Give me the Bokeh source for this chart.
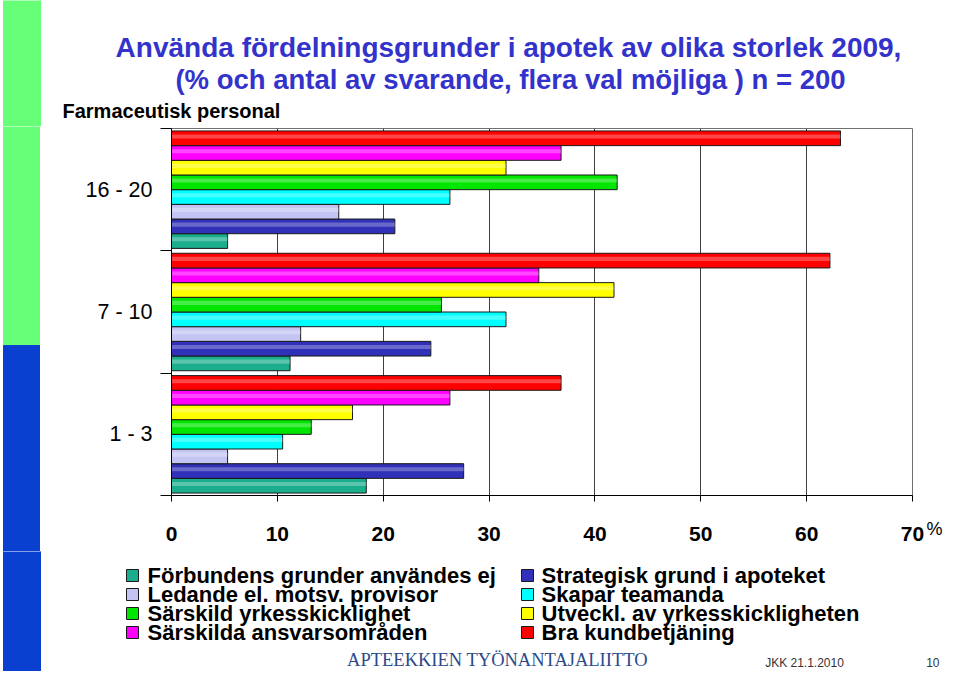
from bokeh.plotting import figure
from bokeh.layouts import column, row
from bokeh.models import Range1d, FixedTicker, Label
from bokeh.embed import file_html
from bokeh.resources import INLINE

# ---------------- data ----------------
categories = ["1 - 3", "7 - 10", "16 - 20"]          # bottom -> top
series_names = [
    "Förbundens grunder användes ej",
    "Strategisk grund i apoteket",
    "Ledande el. motsv. provisor",
    "Skapar teamanda",
    "Särskild yrkesskicklighet",
    "Utveckl. av yrkesskickligheten",
    "Särskilda ansvarsområden",
    "Bra kundbetjäning",
]
series_colors = ["#1BAE8C", "#3030B8", "#C4C4F2", "#00FFFF",
                 "#00E600", "#FFFF00", "#FF00FF", "#FF0000"]

forbundens = [18.4, 11.2, 5.3]
strategisk = [27.6, 24.5, 21.1]
ledande = [5.3, 12.2, 15.8]
skapar = [10.5, 31.6, 26.3]
sarskild_yrk = [13.2, 25.5, 42.1]
utveckl = [17.1, 41.8, 31.6]
sarskilda_ansv = [26.3, 34.7, 36.8]
bra_kund = [36.8, 62.2, 63.2]
series_values = [forbundens, strategisk, ledande, skapar,
                 sarskild_yrk, utveckl, sarskilda_ansv, bra_kund]

x_ticks = [0, 10, 20, 30, 40, 50, 60, 70]

title_line1 = "Använda fördelningsgrunder i apotek av olika storlek 2009,"
title_line2 = "(% och antal av svarande, flera val möjliga ) n = 200"
subtitle = "Farmaceutisk personal"
unit_label = "%"
footer_org = "APTEEKKIEN TYÖNANTAJALIITTO"
footer_date = "JKK 21.1.2010"
footer_page = "10"

# ---------------- page geometry (px) ----------------
FONT = "Liberation Sans"
W, H = 943, 671
HEAD_H = 126            # header band height
MID_H = 425             # chart band height
FOOT_H = H - HEAD_H - MID_H
STRIPE_W = 40           # left stripe figure width
RIGHT_W = 19            # right little figure ("%")
CHART_W = W - STRIPE_W - RIGHT_W
GREEN = "#66FF77"
BLUE = "#0A40D0"
STRIPE_SPLIT = 345      # y where green turns blue


def canvas(w, h):
    c = figure(width=w, height=h, output_backend="svg", toolbar_location=None,
               title=None, x_range=Range1d(0, w), y_range=Range1d(h, 0),
               x_axis_type=None, y_axis_type=None, min_border=0,
               frame_align=False)
    c.outline_line_color = None
    c.background_fill_color = "white"
    c.border_fill_color = "white"
    return c


def label(c, text, x, y, size, color="black", style="normal", align="left",
          font=FONT):
    c.add_layout(Label(x=x, y=y, text=text, text_font=font, text_font_size=size,
                       text_font_style=style, text_color=color,
                       text_align=align, text_baseline="middle"))


# ---------------- header ----------------
head = canvas(W, HEAD_H)
head.quad(left=[3], right=[STRIPE_W], top=[-2], bottom=[HEAD_H + 2],
          fill_color=GREEN, line_color=GREEN, line_width=1)
label(head, title_line1, 508, 47, "28px", color="#3333CC", style="bold", align="center")
label(head, title_line2, 510, 79, "27.5px", color="#3333CC", style="bold", align="center")
label(head, subtitle, 62, 110, "20px", style="bold")

# ---------------- left stripe beside chart ----------------
left = canvas(STRIPE_W, MID_H)
left.quad(left=[3, 3], right=[STRIPE_W + 1, STRIPE_W + 1],
          top=[-2, STRIPE_SPLIT - HEAD_H], bottom=[STRIPE_SPLIT - HEAD_H, MID_H + 2],
          fill_color=[GREEN, BLUE], line_color=[GREEN, BLUE], line_width=1)

# ---------------- chart ----------------
FL, FR, FT, FB = 171, 912, 128, 495     # frame edges in page px
p = figure(width=CHART_W, height=MID_H, output_backend="svg", toolbar_location=None,
           title=None, frame_align=False,
           x_range=Range1d(0, 70), y_range=Range1d(0, len(categories)),
           min_border_left=FL - STRIPE_W, min_border_right=STRIPE_W + CHART_W - FR,
           min_border_top=FT - HEAD_H, min_border_bottom=HEAD_H + MID_H - FB)
p.background_fill_color = "white"
p.border_fill_color = "white"
p.outline_line_color = "#707070"
p.outline_line_width = 1

bh = 0.12
n = len(series_values)
for j, (name, vals, col) in enumerate(zip(series_names, series_values, series_colors)):
    ys = [i + 0.5 + (j - (n - 1) / 2) * bh for i in range(len(categories))]
    p.hbar(y=ys, left=0, right=vals, height=bh, fill_color=col,
           line_color="#1a1a1a", line_width=1)
    ys_hi = [y + bh * 0.12 for y in ys]
    p.hbar(y=ys_hi, left=0, right=vals, height=bh * 0.28, fill_color="white",
           fill_alpha=0.28, line_alpha=0)

p.xgrid.ticker = FixedTicker(ticks=x_ticks[1:])
p.xgrid.grid_line_color = "#404040"
p.xgrid.grid_line_width = 1
p.ygrid.visible = False

xa = p.xaxis[0]
xa.ticker = FixedTicker(ticks=x_ticks)
xa.axis_line_color = "black"
xa.major_tick_line_color = "black"
xa.major_tick_out = 6
xa.major_tick_in = 0
xa.minor_tick_out = 0
xa.major_label_standoff = 25
xa.major_label_text_font = FONT
xa.major_label_text_font_size = "21px"
xa.major_label_text_font_style = "bold"
xa.major_label_text_color = "black"

ya = p.yaxis[0]
centers = [i + 0.5 for i in range(len(categories))]
ya.ticker = FixedTicker(ticks=centers, minor_ticks=list(range(len(categories) + 1)))
ya.major_label_overrides = {c: lab for c, lab in zip(centers, categories)}
ya.axis_line_color = "black"
ya.major_tick_out = 0
ya.major_tick_in = 0
ya.minor_tick_out = 11
ya.minor_tick_in = 0
ya.minor_tick_line_color = "black"
ya.major_label_standoff = 8
ya.major_label_text_font = FONT
ya.major_label_text_font_size = "21.5px"
ya.major_label_text_color = "black"

# ---------------- right strip with the unit ----------------
right = canvas(RIGHT_W, MID_H)
label(right, unit_label, RIGHT_W - 1, 528 - HEAD_H, "18px", align="right")

# ---------------- footer: legend + credits ----------------
foot = canvas(W, FOOT_H)
y0 = HEAD_H + MID_H
foot.quad(left=[3], right=[STRIPE_W], top=[-2], bottom=[FOOT_H + 2],
          fill_color=BLUE, line_color=BLUE, line_width=1)
leg_sq_x = [126, 521]
leg_tx_x = [147, 541]
leg_row_y = [575, 594, 613, 632]
sq_l, sq_r, sq_t, sq_b = [], [], [], []
for k, name in enumerate(series_names):
    r, c = divmod(k, 2)
    sq_l.append(leg_sq_x[c])
    sq_r.append(leg_sq_x[c] + 12)
    sq_t.append(leg_row_y[r] - y0 - 6)
    sq_b.append(leg_row_y[r] - y0 + 6)
    label(foot, name, leg_tx_x[c], leg_row_y[r] - y0, "22px", style="bold")
foot.quad(left=sq_l, right=sq_r, top=sq_t, bottom=sq_b, fill_color=series_colors,
          line_color="#1a1a1a", line_width=1)

label(foot, footer_org, 497, 659 - y0, "18.5px", color="#2A4A8A", align="center",
      font="Liberation Serif")
label(foot, footer_date, 804, 662 - y0, "12px", color="#333333", align="center")
label(foot, footer_page, 939, 662 - y0, "12px", color="#333333", align="right")

layout = column(head, row(left, p, right, spacing=0), foot, spacing=0)
open("out.html", "w").write(file_html(layout, INLINE))
